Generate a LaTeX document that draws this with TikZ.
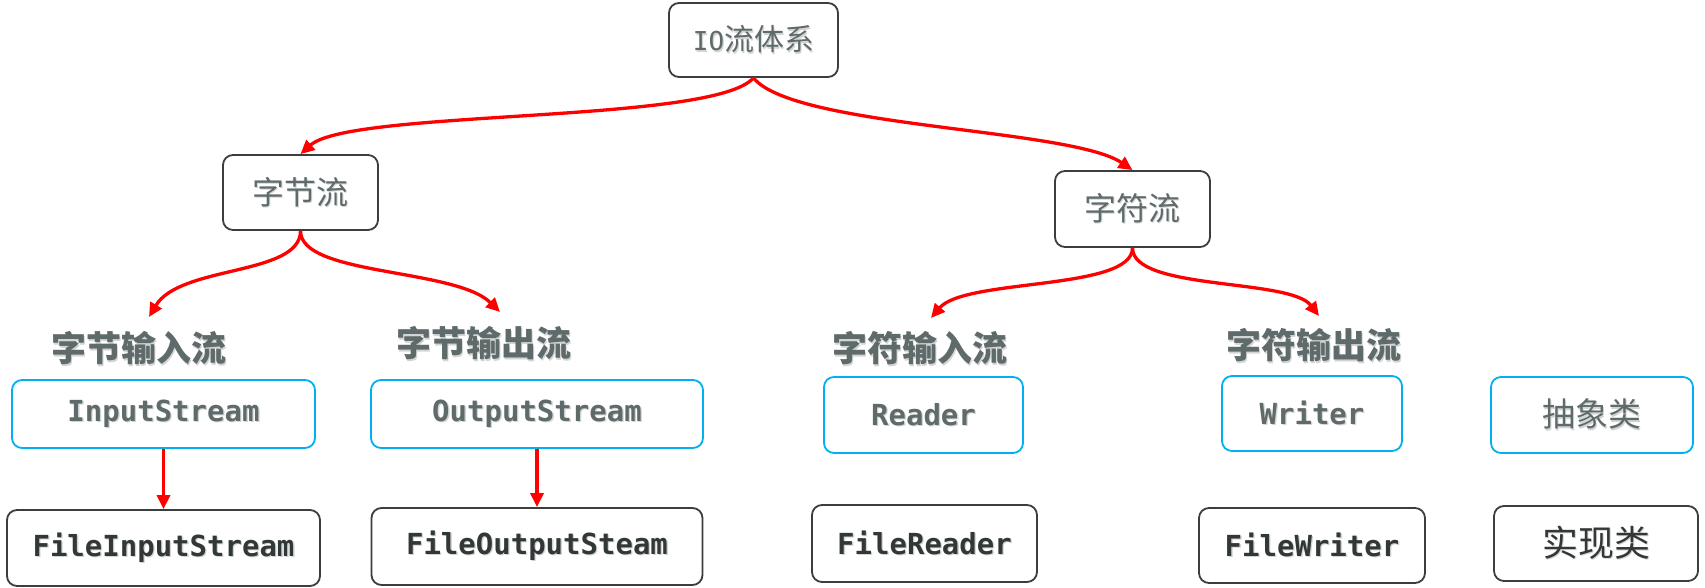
\documentclass[tikz,border=0pt]{standalone}
\usepackage{fontspec}
\setmainfont{DejaVu Sans}
\newfontfamily\cjk{Noto Sans CJK SC}
\newfontfamily\mono{DejaVu Sans Mono}
\usetikzlibrary{arrows.meta,calc}
\definecolor{txtgray}{HTML}{5F6A6A}
\definecolor{txtdark}{HTML}{323838}
\definecolor{boxgray}{HTML}{3A3E3E}
\definecolor{boxblue}{HTML}{00B0F0}
\definecolor{shadowc}{HTML}{D4D4D4}
\newcommand\shd[1]{\makebox[0pt][l]{\hspace{1.3pt}\raisebox{-1.3pt}{\textcolor{shadowc}{#1}}}#1}
\newcommand\cjkf[1]{\cjk\fontsize{#1}{#1}\selectfont}
\newcommand\codef{\mono\bfseries\fontsize{29}{29}\selectfont}
\tikzset{
  box/.style={draw=boxgray, line width=1.8pt, rounded corners=10pt, fill=white, inner sep=0pt, align=center},
  bluebox/.style={box, draw=boxblue},
  lbl/.style={inner sep=0pt, text=txtgray, font=\cjkf{35}\bfseries},
  arr/.style={draw=red, line width=3.3pt, -{Triangle[length=14pt,width=13pt]}}
}
\begin{document}
\begin{tikzpicture}[x=1pt,y=-1pt]
\useasboundingbox (0,0) rectangle (1705,588);
% top levels
\node[box, minimum width=169pt, minimum height=74pt, text=txtgray] (io) at (753.5,40)
  {\shd{{\mono\fontsize{26}{26}\selectfont IO}{\cjkf{30}流体系}}};
\node[box, minimum width=155pt, minimum height=75pt, text=txtgray] (byte) at (300.5,192.5)
  {\shd{\cjkf{32}字节流}};
\node[box, minimum width=155pt, minimum height=76pt, text=txtgray] (char) at (1132.5,209)
  {\shd{\cjkf{32}字符流}};
% labels
\node[lbl] (bin) at (139,349) {\shd{字节输入流}};
\node[lbl] (bout) at (484,344) {\shd{字节输出流}};
\node[lbl] (cin) at (920,349) {\shd{字符输入流}};
\node[lbl] (cout) at (1314,346) {\shd{字符输出流}};
% abstract classes
\node[bluebox, minimum width=303pt, minimum height=68pt, text=txtgray] (is) at (163.5,414) {\shd{\codef InputStream}};
\node[bluebox, minimum width=332pt, minimum height=68pt, text=txtgray] (os) at (537,414) {\shd{\codef OutputStream}};
\node[bluebox, minimum width=199pt, minimum height=76pt, text=txtgray] (rd) at (923.5,415) {\shd{\codef Reader}};
\node[bluebox, minimum width=180pt, minimum height=75pt, text=txtgray] (wr) at (1312,413.5) {\shd{\codef Writer}};
\node[bluebox, minimum width=202pt, minimum height=76pt, text=txtgray] (abs) at (1592,415) {\shd{\cjkf{33}抽象类}};
% implementations
\node[box, minimum width=313pt, minimum height=76pt, text=txtdark] (fis) at (163.5,548) {\shd{\codef FileInputStream}};
\node[box, minimum width=331pt, minimum height=77pt, text=txtdark] (fos) at (537,546.5) {\shd{\codef FileOutputSteam}};
\node[box, minimum width=225pt, minimum height=77pt, text=txtdark] (frd) at (924.5,543.5) {\shd{\codef FileReader}};
\node[box, minimum width=226pt, minimum height=75pt, text=txtdark] (fwr) at (1312,545.5) {\shd{\codef FileWriter}};
\node[box, minimum width=204pt, minimum height=75pt, text=txtdark] (impl) at (1596,543.5) {\shd{\cjkf{36}实现类}};
% connectors
\draw[arr] (io.south) .. controls ($(io.south)+(-40,46)$) and ($(byte.north)+(50,-45)$) .. (byte.north);
\draw[arr] (io.south) .. controls ($(io.south)+(40,50)$) and ($(char.north)+(-62,-42)$) .. (char.north);
\draw[arr] (byte.south) .. controls ($(byte.south)+(0,45)$) and ($(bin.center)+(41,-84)$) .. ($(bin.center)+(10,-32)$);
\draw[arr] (byte.south) .. controls ($(byte.south)+(0,45)$) and ($(bout.center)+(-29,-76)$) .. ($(bout.center)+(16,-32)$);
\draw[arr] (char.south) .. controls ($(char.south)+(0,43)$) and ($(cin.center)+(45,-71)$) .. ($(cin.center)+(11,-31)$);
\draw[arr] (char.south) .. controls ($(char.south)+(0,43)$) and ($(cout.center)+(-24,-68)$) .. ($(cout.center)+(5,-30)$);
\draw[arr] (is.south) -- (fis.north);
\draw[arr] (os.south) -- (fos.north);
\end{tikzpicture}
\end{document}
